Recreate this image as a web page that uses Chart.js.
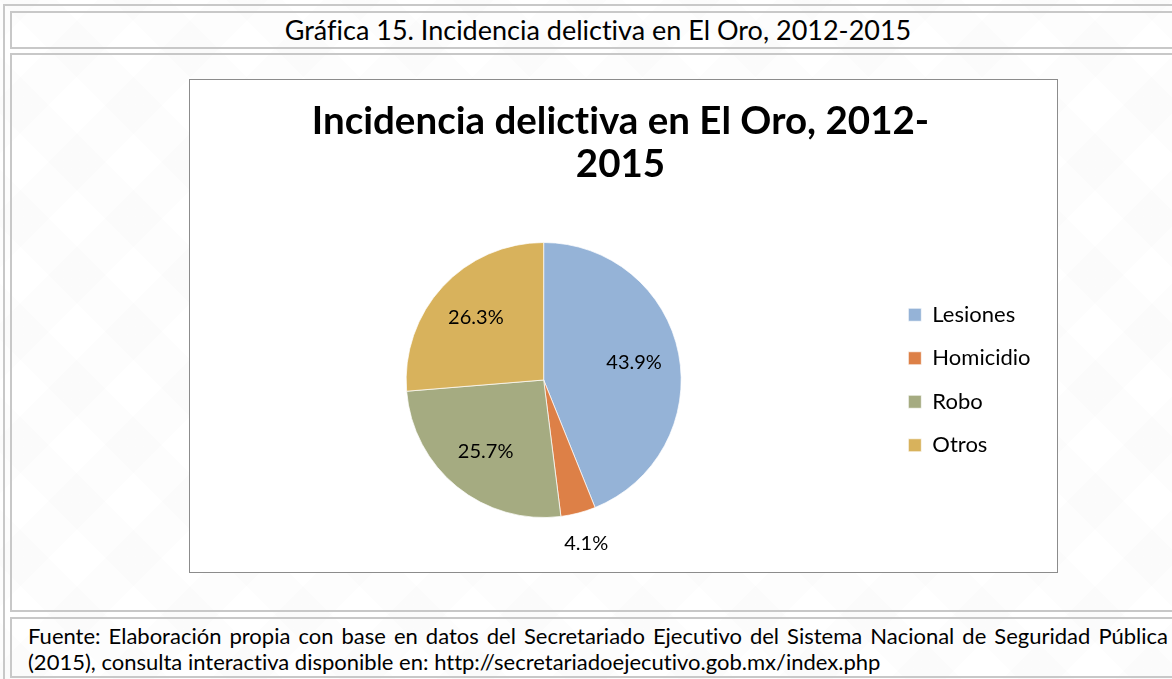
<!DOCTYPE html>
<html lang="es">
<head>
<meta charset="utf-8">
<script src="https://cdn.jsdelivr.net/npm/chart.js@4/dist/chart.umd.min.js"></script>
<style>
  html, body { margin: 0; padding: 0; }
  body {
    width: 1172px; height: 679px; overflow: hidden; position: relative;
    font-family: Lato, "Open Sans", sans-serif; color: #000;
    font-variant-ligatures: none;
    background-color: #fff;
    background-image:
      repeating-linear-gradient(45deg, rgba(0,0,0,0.009) 0 40px, transparent 40px 80px),
      repeating-linear-gradient(-45deg, rgba(0,0,0,0.009) 0 40px, transparent 40px 80px);
  }
  .frame { position: absolute; border: 2px solid #c8c8c8; box-sizing: border-box; }
  #outer { left: 3px; top: 4px; width: 1200px; height: 700px; }
  #head { left: 10px; top: 11px; width: 1190px; height: 38px;
          font-size: 27px; text-align: center; line-height: 34px; padding-right: 14px; }
  #body { left: 10px; top: 53px; width: 1190px; height: 559px; }
  #foot { left: 10px; top: 617px; width: 1190px; height: 61px;
          font-size: 22px; line-height: 26px; padding: 4px 0 0 16px; }
  #foot .l1 { display: block; width: 1140px; white-space: nowrap; text-align: justify; text-align-last: justify; }
  #box { position: absolute; left: 189px; top: 79px; width: 869px; height: 494px;
         border: 1px solid #8c8c8c; box-sizing: border-box; background: #fff; }
  #chartWrap { position: absolute; left: 0; top: 0; width: 867px; height: 492px; }
</style>
</head>
<body>
<div class="frame" id="outer"></div>
<div class="frame" id="head">Gráfica 15. Incidencia delictiva en El Oro, 2012-2015</div>
<div class="frame" id="body"></div>
<div class="frame" id="foot">
  <span class="l1">Fuente: Elaboración propia con base en datos del Secretariado Ejecutivo del Sistema Nacional de Seguridad Pública</span>
  (2015), consulta interactiva disponible en: http://secretariadoejecutivo.gob.mx/index.php
</div>
<div id="box"><div id="chartWrap"><canvas id="pieChart"></canvas></div></div>

<script>
// data
const categories = ['Lesiones', 'Homicidio', 'Robo', 'Otros'];
const shares = [43.9, 4.1, 25.7, 26.3];
const sliceColors = ['#95b3d7', '#dd8047', '#a5ab81', '#d8b25c'];
const titleLines = ['Incidencia delictiva en El Oro, 2012-', '2015'];

// a tiny letter spacing keeps Lato from joining "ti" into a ligature
const noLigatures = {
  id: 'noLigatures',
  beforeDraw(chart) {
    chart.ctx.letterSpacing = '0.01px';
  }
};

// percentage labels: inside the slice, or just outside for the thin one
const pieLabels = {
  id: 'pieLabels',
  afterDatasetsDraw(chart) {
    const ctx = chart.ctx;
    const meta = chart.getDatasetMeta(0);
    ctx.save();
    ctx.font = '20px Lato, sans-serif';
    ctx.fillStyle = '#000';
    ctx.textAlign = 'center';
    ctx.textBaseline = 'middle';
    meta.data.forEach((arc, i) => {
      const { x, y, startAngle, endAngle, outerRadius } = arc.getProps(['x', 'y', 'startAngle', 'endAngle', 'outerRadius'], true);
      const mid = (startAngle + endAngle) / 2;
      const small = shares[i] < 5;
      const r = small ? outerRadius * 1.23 : outerRadius * 0.67;
      ctx.fillText(shares[i].toFixed(1) + '%', x + Math.cos(mid) * r, y + Math.sin(mid) * r);
    });
    ctx.restore();
  }
};

new Chart(document.getElementById('pieChart'), {
  type: 'pie',
  data: {
    labels: categories,
    datasets: [{
      data: shares,
      backgroundColor: sliceColors,
      borderColor: 'rgba(255,255,255,0.7)',
      borderWidth: 1,
      hoverOffset: 0
    }]
  },
  options: {
    responsive: true,
    maintainAspectRatio: false,
    animation: false,
    layout: { padding: { left: 10.5, right: 16.5, top: 0, bottom: 54 } },
    plugins: {
      title: {
        display: true,
        text: titleLines,
        color: '#000',
        font: { family: 'Lato, sans-serif', size: 38.5, weight: 'bold', lineHeight: 43 / 38.5 },
        padding: { top: 20, bottom: 56 }
      },
      legend: {
        position: 'right',
        fullSize: false,
        labels: {
          color: '#000',
          font: { family: 'Lato, sans-serif', size: 22 },
          boxWidth: 13,
          boxHeight: 13,
          padding: 21.5
        }
      },
      tooltip: { enabled: false }
    }
  },
  plugins: [noLigatures, pieLabels]
});
</script>
</body>
</html>
